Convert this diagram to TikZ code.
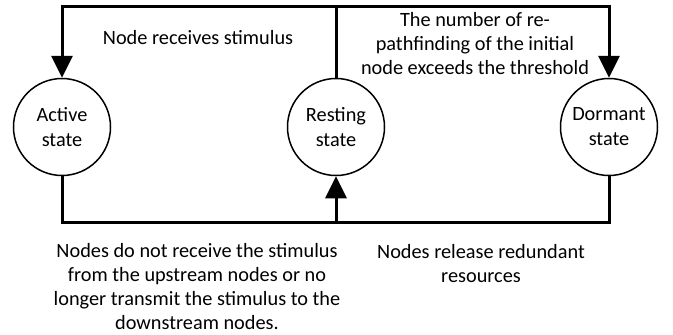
\documentclass[tikz,border=0pt]{standalone}
\usepackage{fontspec}
\setmainfont{Carlito}
\usetikzlibrary{arrows.meta}
\begin{document}
\begin{tikzpicture}[x=1pt,y=-1pt,
  state/.style={circle,draw,line width=1.5pt,minimum size=97pt,inner sep=0pt,align=center,font=\fontsize{20.3}{25}\selectfont},
  conn/.style={line width=3pt},
  arr/.style={conn,-{Triangle[length=22pt,width=21pt]}},
  lbl/.style={align=center,font=\fontsize{20.3}{24}\selectfont,inner sep=0pt}]
\useasboundingbox (0,0) rectangle (673,335);
\node[state] (act) at (62,127) {Active\\state};
\node[state] (rest) at (336,127) {Resting\\state};
\node[state] (dor) at (609,127) {Dormant\\state};
\coordinate (topy) at (0,6);
\coordinate (boty) at (0,222);
\draw[arr] (rest.north) -- (rest.north |- topy) -| (act.north);
\draw[arr] (rest.north |- topy) -| (dor.north);
\draw[arr] (act.south) -- (act.south |- boty) -| (rest.south);
\draw[conn] (dor.south) -- (dor.south |- boty) -- (rest.south |- boty);
\node[lbl] (l1) at (198,38) {Node receives stimulus};
\node[lbl] (l2) at (475,44) {The number of re-\\pathfinding of the initial\\node exceeds the threshold};
\node[lbl] (l3) at (197,287) {Nodes do not receive the stimulus\\from the upstream nodes or no\\longer transmit the stimulus to the\\downstream nodes.};
\node[lbl] (l4) at (481,264) {Nodes release redundant\\resources};
\end{tikzpicture}
\end{document}
